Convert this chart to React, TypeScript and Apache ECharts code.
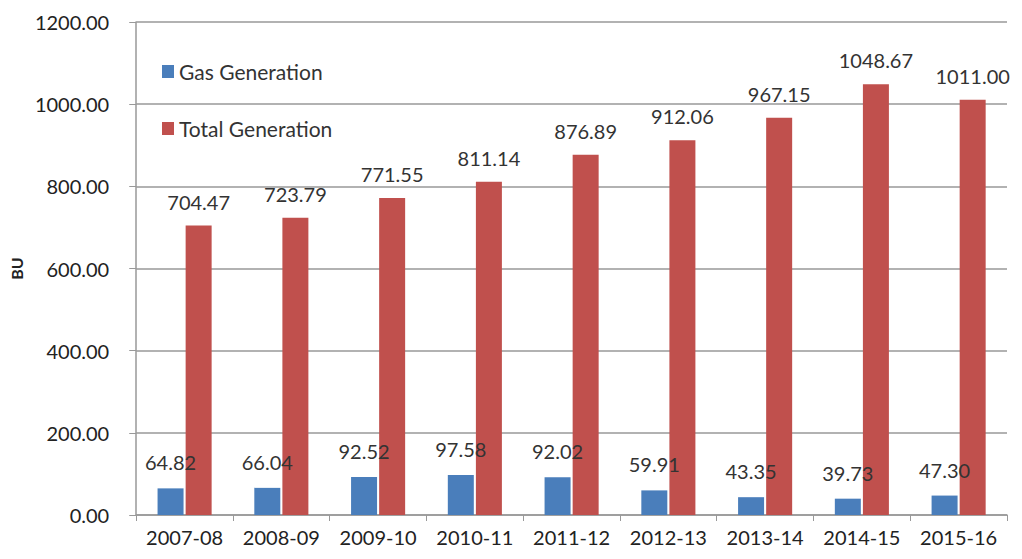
import React, { useEffect, useRef } from "react";
import * as echarts from "echarts";

const categories = ["2007-08", "2008-09", "2009-10", "2010-11", "2011-12", "2012-13", "2013-14", "2014-15", "2015-16"];
const gasGeneration = [64.82, 66.04, 92.52, 97.58, 92.02, 59.91, 43.35, 39.73, 47.3];
const totalGeneration = [704.47, 723.79, 771.55, 811.14, 876.89, 912.06, 967.15, 1048.67, 1011.0];

const FONT = "Lato";

export default function App() {
  const ref = useRef<HTMLDivElement>(null);
  useEffect(() => {
    const chart = echarts.init(ref.current!, null, { renderer: "svg" });
    chart.setOption({
      animation: false,
      backgroundColor: "#ffffff",
      textStyle: { fontFamily: FONT },
      legend: {
        orient: "vertical",
        left: 157,
        top: 56,
        itemGap: 36,
        itemWidth: 12,
        itemHeight: 13,
        icon: "rect",
        textStyle: { fontSize: 21, color: "#333", fontFamily: FONT },
        data: ["Gas Generation", "Total Generation"],
      },
      grid: { left: 130, right: 15, top: 22, bottom: 44 },
      xAxis: {
        type: "category",
        data: categories,
        axisLine: { lineStyle: { color: "#999", width: 1.5 } },
        axisTick: { show: true, length: 6, lineStyle: { color: "#999" } },
        axisLabel: { fontSize: 20, color: "#222", margin: 12, fontFamily: FONT, interval: 0, hideOverlap: false },
      },
      yAxis: {
        type: "value",
        min: 0,
        max: 1200,
        interval: 200,
        name: "BU",
        nameLocation: "middle",
        nameRotate: 90,
        nameGap: 106,
        nameTextStyle: { fontSize: 16, fontWeight: "bold", color: "#222", fontFamily: FONT },
        axisLine: { show: true, lineStyle: { color: "#999", width: 1.5 } },
        axisTick: { show: true, length: 7, inside: false, lineStyle: { color: "#999" } },
        axisLabel: {
          fontSize: 20,
          color: "#222",
          margin: 27,
          fontFamily: FONT,
          formatter: (v: number) => v.toFixed(2),
        },
        splitLine: { lineStyle: { color: "#999", width: 1.5 } },
      },
      series: [
        {
          name: "Gas Generation",
          type: "bar",
          data: gasGeneration,
          barWidth: 26,
          barGap: "8%",
          itemStyle: { color: "#4a7ebb" },
          label: {
            show: true,
            position: "top",
            distance: 16,
            fontSize: 20,
            color: "#333",
            fontFamily: FONT,
            formatter: (p: any) => Number(p.value).toFixed(2),
          },
        },
        {
          name: "Total Generation",
          type: "bar",
          data: totalGeneration,
          barWidth: 26,
          itemStyle: { color: "#c0504d" },
          label: {
            show: true,
            position: "top",
            distance: 14,
            fontSize: 20,
            color: "#333",
            fontFamily: FONT,
            formatter: (p: any) => Number(p.value).toFixed(2),
          },
        },
      ],
    });
    return () => chart.dispose();
  }, []);
  return (
    <div
      ref={ref}
      style={{ position: "fixed", left: 0, top: 0, width: 1022, height: 559 }}
    />
  );
}
